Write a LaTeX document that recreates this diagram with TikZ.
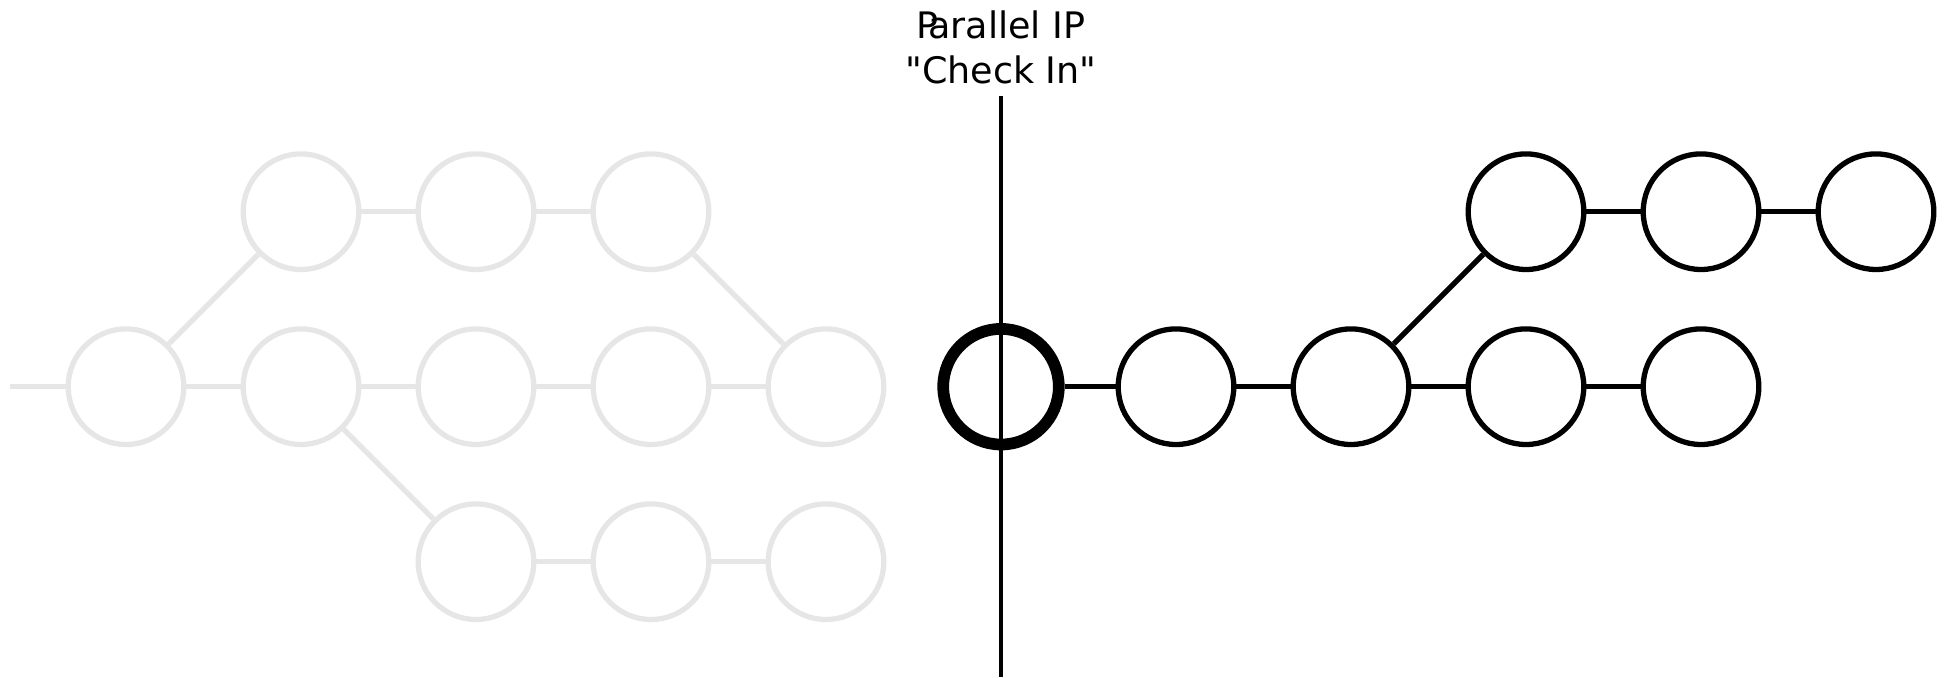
\documentclass[tikz,border=0pt]{standalone}
\usepackage{fontspec}
\setmainfont{DejaVu Sans}[Ligatures=TeXOff]
\definecolor{ghost}{RGB}{230,230,230}
\begin{document}
\begin{tikzpicture}[x=1pt,y=-1pt,
  nd/.style={circle, draw, line width=5.3pt, minimum size=115.6pt, inner sep=0pt},
  old/.style={nd, draw=ghost},
  new/.style={nd, draw=black},
  now/.style={nd, draw=black, line width=11.7pt},
  oldedge/.style={draw=ghost, line width=5.3pt},
  newedge/.style={draw=black, line width=5.3pt},
  checkline/.style={draw=black, line width=4.8pt},
  titletext/.style={font=\fontsize{36.5}{45}\selectfont, anchor=base, inner sep=0pt}]
\useasboundingbox (0,0) rectangle (1950,677);
% old (gray) history
\coordinate (stub) at (10,386.7);
\node[old] (g0m) at (126,386.7) {};
\node[old] (g1m) at (301,386.7) {};
\node[old] (g2m) at (476,386.7) {};
\node[old] (g3m) at (651,386.7) {};
\node[old] (g4m) at (826,386.7) {};
\node[old] (g1t) at (301,211.7) {};
\node[old] (g2t) at (476,211.7) {};
\node[old] (g3t) at (651,211.7) {};
\node[old] (g2b) at (476,561.7) {};
\node[old] (g3b) at (651,561.7) {};
\node[old] (g4b) at (826,561.7) {};
\path[oldedge] (stub) -- (g0m);
\path[oldedge] (g0m) -- (g1m);
\path[oldedge] (g1m) -- (g2m);
\path[oldedge] (g2m) -- (g3m);
\path[oldedge] (g3m) -- (g4m);
\path[oldedge] (g0m) -- (g1t);
\path[oldedge] (g1t) -- (g2t);
\path[oldedge] (g2t) -- (g3t);
\path[oldedge] (g3t) -- (g4m);
\path[oldedge] (g1m) -- (g2b);
\path[oldedge] (g2b) -- (g3b);
\path[oldedge] (g3b) -- (g4b);
% new (black) history
\node[now] (b5m) at (1001,386.7) {};
\node[new] (b6m) at (1176,386.7) {};
\node[new] (b7m) at (1351,386.7) {};
\node[new] (b8m) at (1526,386.7) {};
\node[new] (b9m) at (1701,386.7) {};
\node[new] (b8t) at (1526,211.7) {};
\node[new] (b9t) at (1701,211.7) {};
\node[new] (b10t) at (1876,211.7) {};
\path[newedge] (b5m) -- (b6m);
\path[newedge] (b6m) -- (b7m);
\path[newedge] (b7m) -- (b8m);
\path[newedge] (b8m) -- (b9m);
\path[newedge] (b7m) -- (b8t);
\path[newedge] (b8t) -- (b9t);
\path[newedge] (b9t) -- (b10t);
% check-in line
\coordinate (ctop) at (1001,96);
\coordinate (cbot) at (1001,677);
\path[checkline] (ctop) -- (cbot);
\node[titletext] (t1) at (1001,38.3) {P\kern-0.29em arallel IP};
\node[titletext] (t2) at (1001,83.3) {"Check In"};
\end{tikzpicture}
\end{document}
